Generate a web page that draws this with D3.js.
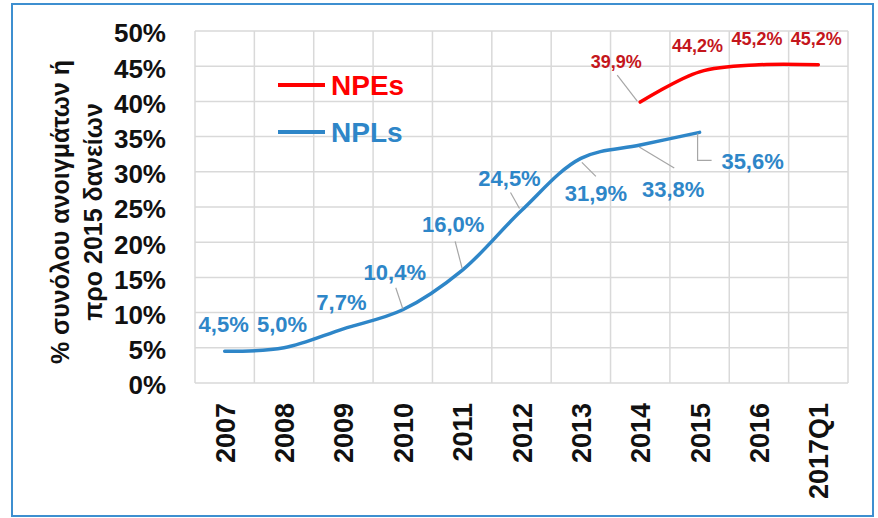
<!DOCTYPE html>
<html>
<head>
<meta charset="utf-8">
<script src="https://cdn.jsdelivr.net/npm/d3@7"></script>
<style>
  body { margin: 0; background: #fff; }
  svg { display: block; font-family: "Liberation Sans", Arial, sans-serif; }
  .grid line { stroke: #d9d9d9; stroke-width: 1.5; }
  .axis text { font-weight: bold; fill: #111; }
</style>
</head>
<body>
<div id="chart"></div>
<script>
// chart data
const categories = ['2007', '2008', '2009', '2010', '2011', '2012', '2013', '2014', '2015', '2016', '2017Q1'];
const nplValues = [4.5, 5.0, 7.7, 10.4, 16.0, 24.5, 31.9, 33.8, 35.6, null, null];
const npeValues = [null, null, null, null, null, null, null, 39.9, 44.2, 45.2, 45.2];
const yTicks = [0, 5, 10, 15, 20, 25, 30, 35, 40, 45, 50];
const seriesNames = ['NPEs', 'NPLs'];
const titleLines = ['% συνόλου ανοιγμάτων ή', 'προ 2015 δανείων'];

// label placement relative to each point (pixels), plus optional leader line
const nplLabelPos = [
  { dx: -1, dy: -19 },
  { dx: -2, dy: -16 },
  { dx: -2, dy: -19 },
  { dx: -8, dy: -30, leader: [[0, -1], [-7, -22]] },
  { dx: -9, dy: -38, leader: [[0, -2], [-7, -29]] },
  { dx: -12, dy: -25, leader: [[-2, -2], [-11, -18]] },
  { dx: 15, dy: 43, leader: [[1, 4], [15, 18]] },
  { dx: 33, dy: 52, leader: [[-1, 2], [34, 23]] },
  { dx: 53, dy: 37, leader: [[-2, 1], [-2, 28], [12, 28]] },
  null, null
];
const npeLabelPos = [
  null, null, null, null, null, null, null,
  { dx: -24, dy: -34, leader: [[-3, -1], [-23, -27]] },
  { dx: -2, dy: -20 },
  { dx: -2, dy: -20 },
  { dx: -2, dy: -20 }
];

const W = 878, H = 518;
const plot = { left: 195, top: 31, right: 848, bottom: 383 };
const blue = '#2e86c8', red = '#ff0000', darkRed = '#c4161c';
const fmt = v => v.toFixed(1).replace('.', ',') + '%';

const svg = d3.select('#chart').append('svg').attr('width', W).attr('height', H);

svg.append('rect')
  .attr('x', 12).attr('y', 4).attr('width', 861).attr('height', 512)
  .attr('fill', '#fff').attr('stroke', '#3d8fd0').attr('stroke-width', 2);

const x = d3.scaleBand().domain(categories).range([plot.left, plot.right]).padding(0);
const y = d3.scaleLinear().domain([0, 50]).range([plot.bottom, plot.top]);
const cx = c => x(c) + x.bandwidth() / 2;

// grid
const grid = svg.append('g').attr('class', 'grid');
grid.selectAll('.h').data(yTicks).join('line')
  .attr('x1', plot.left).attr('x2', plot.right)
  .attr('y1', d => y(d)).attr('y2', d => y(d));
grid.selectAll('.v').data(categories.map(c => x(c)).concat([plot.right])).join('line')
  .attr('x1', d => d).attr('x2', d => d)
  .attr('y1', plot.top).attr('y2', plot.bottom);

// y axis
const yAxis = d3.axisLeft(y).tickValues(yTicks).tickSize(0).tickPadding(29).tickFormat(d => d + '%');
svg.append('g').attr('class', 'axis')
  .attr('transform', `translate(${plot.left},0)`)
  .call(yAxis)
  .call(g => g.select('.domain').remove())
  .call(g => g.selectAll('text').attr('font-size', 26).attr('dy', '0.42em'));

// x axis
const xAxis = d3.axisBottom(x).tickSize(0);
svg.append('g').attr('class', 'axis')
  .attr('transform', `translate(0,${plot.bottom})`)
  .call(xAxis)
  .call(g => g.select('.domain').remove())
  .call(g => g.selectAll('text')
    .attr('font-size', 27)
    .attr('transform', 'rotate(-90)')
    .attr('text-anchor', 'end')
    .attr('x', -20).attr('y', 10).attr('dy', 0));

// y title
const title = svg.append('g').attr('transform', 'translate(0,212) rotate(-90)');
title.selectAll('text').data(titleLines).join('text')
  .attr('x', 0).attr('y', (d, i) => 69 + i * 33)
  .attr('text-anchor', 'middle')
  .attr('font-size', 25).attr('font-weight', 'bold').attr('fill', '#111')
  .text(d => d);

// lines
const line = d3.line()
  .defined(d => d.v != null)
  .x(d => cx(d.c)).y(d => y(d.v))
  .curve(d3.curveCatmullRom.alpha(0.5));

const nplData = categories.map((c, i) => ({ c, v: nplValues[i], pos: nplLabelPos[i] }));
const npeData = categories.map((c, i) => ({ c, v: npeValues[i], pos: npeLabelPos[i] }));

svg.append('path').datum(nplData.filter(d => d.v != null))
  .attr('d', line).attr('fill', 'none').attr('stroke', blue)
  .attr('stroke-width', 3.5).attr('stroke-linecap', 'round');
svg.append('path').datum(npeData.filter(d => d.v != null))
  .attr('d', line).attr('fill', 'none').attr('stroke', red)
  .attr('stroke-width', 3.5).attr('stroke-linecap', 'round');

// data labels
function drawLabels(data, color, size) {
  const pts = data.filter(d => d.v != null);
  svg.append('g').selectAll('polyline').data(pts.filter(d => d.pos.leader)).join('polyline')
    .attr('points', d => d.pos.leader.map(p => [cx(d.c) + p[0], y(d.v) + p[1]].join(',')).join(' '))
    .attr('fill', 'none').attr('stroke', '#a6a6a6').attr('stroke-width', 1.2);
  svg.append('g').selectAll('text').data(pts).join('text')
    .attr('x', d => cx(d.c) + d.pos.dx).attr('y', d => y(d.v) + d.pos.dy)
    .attr('text-anchor', 'middle')
    .attr('font-size', size).attr('font-weight', 'bold').attr('fill', color)
    .text(d => fmt(d.v));
}
drawLabels(nplData, blue, 22);
drawLabels(npeData, darkRed, 18);

// legend
const legend = svg.append('g').attr('transform', 'translate(278,85)');
const items = legend.selectAll('g').data(seriesNames).join('g')
  .attr('transform', (d, i) => `translate(0,${i * 47})`);
items.append('line').attr('x1', 0).attr('x2', 47).attr('y1', 0).attr('y2', 0)
  .attr('stroke', (d, i) => i === 0 ? red : blue).attr('stroke-width', 4);
items.append('text').attr('x', 53).attr('y', 10)
  .attr('font-size', 28).attr('font-weight', 'bold')
  .attr('fill', (d, i) => i === 0 ? red : blue)
  .text(d => d);
</script>
</body>
</html>
